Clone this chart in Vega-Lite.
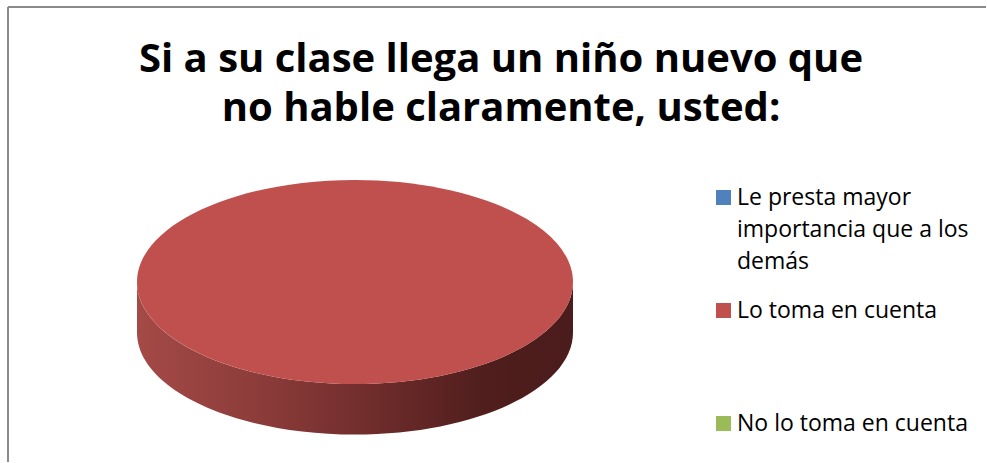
{
  "$schema": "https://vega.github.io/schema/vega-lite/v6.json",
  "width": 987,
  "height": 463,
  "autosize": {"type": "fit", "contains": "padding"},
  "padding": {"left": 7, "top": 6, "right": 0, "bottom": 0},
  "background": "white",
  "config": {
    "view": {"stroke": null},
    "font": "Open Sans"
  },
  "title": {
    "text": ["Si a su clase llega un niño nuevo que", "no hable claramente, usted:"],
    "font": "Open Sans",
    "fontSize": 40,
    "fontWeight": "bold",
    "color": "#000000",
    "anchor": "middle",
    "frame": "group",
    "offset": -123,
    "dx": 4,
    "lineHeight": 49
  },
  "data": {
    "values": [
      {"respuesta": "Le presta mayor importancia que a los demás", "porcentaje": 0},
      {"respuesta": "Lo toma en cuenta", "porcentaje": 100},
      {"respuesta": "No lo toma en cuenta", "porcentaje": 0}
    ]
  },
  "transform": [{"filter": "datum.porcentaje > 0"}],
  "layer": [
    {
      "mark": {"type": "rule", "stroke": "#8A8A8A", "strokeWidth": 2},
      "encoding": {"x": {"value": 0}}
    },
    {
      "mark": {"type": "rule", "stroke": "#8A8A8A", "strokeWidth": 2},
      "encoding": {"y": {"value": 0}}
    },
    {
      "mark": {
        "type": "point",
        "shape": "M-1,0 L-1,0.232 A1,0.468 0 0,0 1,0.232 L1,0 A1,0.468 0 0,1 -1,0 Z",
        "size": 190096,
        "filled": true,
        "opacity": 1,
        "strokeWidth": 0,
        "xOffset": -142,
        "yOffset": 47.5,
        "fill": {
          "gradient": "linear",
          "x1": 0, "x2": 1, "y1": 0, "y2": 0,
          "stops": [
            {"offset": 0, "color": "#A44A47"},
            {"offset": 0.3, "color": "#8A3B39"},
            {"offset": 0.55, "color": "#6E2C2B"},
            {"offset": 0.8, "color": "#4F1E1D"},
            {"offset": 1, "color": "#4A1C1B"}
          ]
        }
      },
      "encoding": {}
    },
    {
      "mark": {
        "type": "point",
        "shape": "M-1,0 A1,0.468 0 1,0 1,0 A1,0.468 0 1,0 -1,0 Z",
        "size": 190096,
        "filled": true,
        "opacity": 1,
        "strokeWidth": 0,
        "xOffset": -142,
        "yOffset": 47.5
      },
      "encoding": {
        "color": {
          "field": "respuesta",
          "type": "nominal",
          "scale": {
            "domain": ["Le presta mayor importancia que a los demás", "Lo toma en cuenta", "No lo toma en cuenta"],
            "range": ["#4F81BD", "#C0504D", "#9BBB59"]
          },
          "legend": {
            "title": null,
            "orient": "none",
            "legendX": 704,
            "legendY": 179,
            "symbolType": "square",
            "symbolSize": 225,
            "symbolStrokeWidth": 0,
            "symbolOpacity": 1,
            "labelFont": "Open Sans",
            "labelFontSize": 23,
            "labelColor": "#000000",
            "labelBaseline": "top",
            "labelOffset": 2,
            "labelLimit": 400,
            "rowPadding": 25,
            "labelExpr": "datum.label == 'Lo toma en cuenta' ? ['Lo toma en cuenta', '', ''] : datum.label == 'No lo toma en cuenta' ? ['No lo toma en cuenta', '', ''] : ['Le presta mayor', 'importancia que a los', 'demás']",
            "encode": {"labels": {"update": {"dy": {"value": -11}, "lineHeight": {"value": 32}}}}
          }
        }
      }
    }
  ]
}
